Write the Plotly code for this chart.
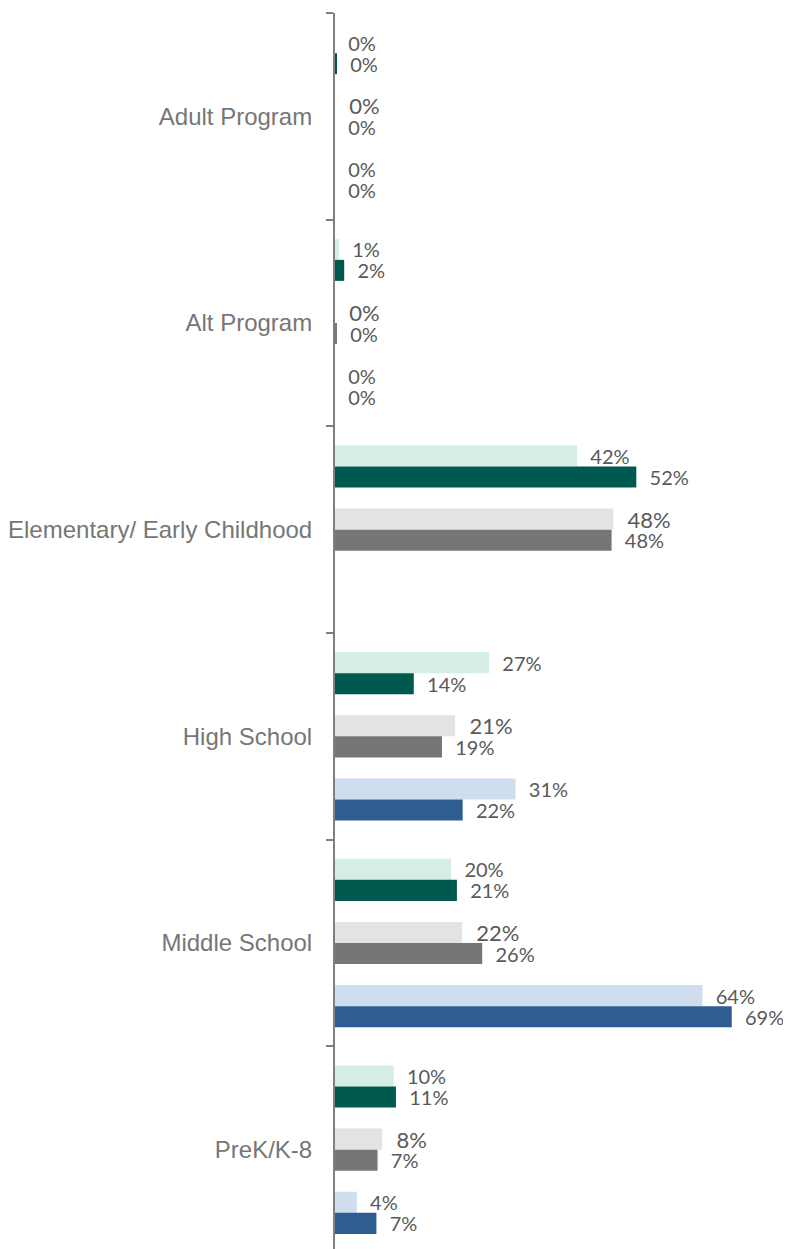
import plotly.graph_objects as go

# categories, top to bottom
categories = ["Adult Program", "Alt Program", "Elementary/ Early Childhood",
              "High School", "Middle School", "PreK/K-8"]

# series values (%)
light_green = [0, 0.7, 42.1, 26.8, 20.2, 10.2]
dark_green = [0.3, 1.6, 52.4, 13.7, 21.2, 10.6]
light_gray = [0, 0, 48.4, 20.9, 22.1, 8.2]
dark_gray = [0, 0.2, 48.1, 18.6, 25.6, 7.4]
light_blue = [0, 0, None, 31.4, 63.9, 3.8]
dark_blue = [0, 0, None, 22.2, 69.0, 7.2]
empty = [None] * len(categories)

series = [
    (light_green, "#d5eee5", 20),
    (dark_green, "#00594e", 20),
    (empty, "white", 20),
    (light_gray, "#e3e3e3", 22),
    (dark_gray, "#767678", 20),
    (empty, "white", 20),
    (light_blue, "#cfdeee", 20),
    (dark_blue, "#2f5d91", 20),
]

fig = go.Figure()
for vals, col, fs in series:
    fig.add_trace(go.Bar(
        x=vals, y=categories, orientation="h",
        marker=dict(color=col, line=dict(width=0)),
        texttemplate="\u00a0\u00a0%{x:.0f}%",
        textposition="outside",
        textfont=dict(family="Lato", size=fs, color="#595959"),
        constraintext="none", cliponaxis=False,
        showlegend=False, hoverinfo="skip",
    ))

# page body has an 8px margin, so the figure is shifted 8px
fig.update_layout(
    width=783, height=1245,
    margin=dict(l=327, r=0, t=5, b=0),
    barmode="group", bargap=0.185, bargroupgap=0,
    plot_bgcolor="white", paper_bgcolor="white",
)
fig.update_xaxes(range=[0, 79.3], showticklabels=False, showgrid=False,
                 zeroline=False, showline=False)
fig.update_yaxes(categoryorder="array", categoryarray=categories,
                 autorange="reversed", showline=True, linecolor="#808080",
                 linewidth=2, ticks="outside", tickson="boundaries",
                 ticklen=7, tickcolor="#808080", tickwidth=1.5,
                 ticklabelstandoff=16, showgrid=False,
                 tickfont=dict(family="Liberation Sans", size=24, color="#767676"))

fig.write_html("out.html")
